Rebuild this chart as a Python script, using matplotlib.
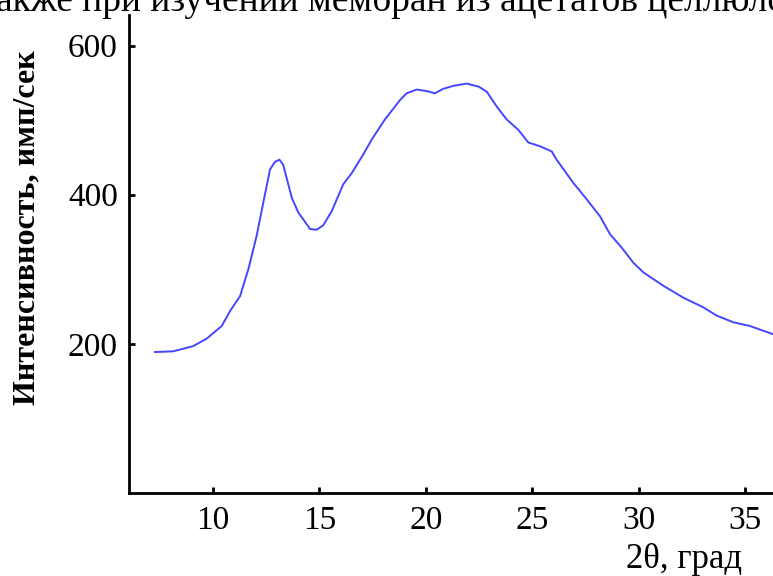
import matplotlib
matplotlib.use('Agg')
import matplotlib.pyplot as plt

# 2theta, degrees
two_theta = [7.27, 8.13, 9.07, 9.70, 10.41, 10.80, 11.27, 11.66, 12.05, 12.36,
             12.68, 12.91, 13.12, 13.30, 13.70, 14.01, 14.24, 14.56, 14.87, 15.18,
             15.58, 16.12, 16.52, 17.06, 17.46, 18.08, 18.79, 19.10, 19.57, 20.04,
             20.43, 20.82, 21.30, 21.92, 22.48, 22.87, 23.34, 23.80, 24.35, 24.82,
             25.37, 25.92, 26.15, 26.93, 27.56, 28.19, 28.66, 29.21, 29.75, 30.22,
             31.16, 32.10, 33.04, 33.67, 34.45, 35.23, 36.32]
# intensity, counts per second
intensity = [189, 190, 197, 207, 224, 244, 264, 300, 345, 389,
             434, 444, 447, 440, 396, 376, 367, 354, 353, 359,
             378, 414, 429, 454, 474, 501, 527, 536, 541, 539,
             536, 542, 546, 549, 545, 538, 518, 501, 487, 470,
             465, 458, 447, 416, 394, 371, 347, 329, 309, 296,
             278, 262, 249, 238, 229, 224, 213]

x_ticks = [10, 15, 20, 25, 30, 35]
y_ticks = [200, 400, 600]

serif = ['Liberation Serif', 'DejaVu Serif']
W, H = 773, 576

fig = plt.figure(figsize=(W / 100, H / 100), dpi=100)
ax = fig.add_axes([129 / W, (H - 493) / H, (W - 129) / W, (493 - 15) / H])

ax.plot(two_theta, intensity, color='#4646ff', lw=1.4)

ax.set_xlim(6.05, 36.32)
ax.set_ylim(0, 641)
ax.set_xticks(x_ticks)
ax.set_yticks(y_ticks)

for s in ['top', 'right']:
    ax.spines[s].set_visible(False)
for s in ['left', 'bottom']:
    ax.spines[s].set_linewidth(2)
    ax.spines[s].set_color('black')

ax.tick_params(direction='in', length=4, width=2, labelsize=24)
ax.tick_params(axis='x', pad=9)
ax.tick_params(axis='y', pad=8)
for lab in ax.get_xticklabels() + ax.get_yticklabels():
    lab.set_family(serif)

# axis titles
fig.text(27 / W, 1 - 228 / H, 'Интенсивность, имп/сек', rotation=90,
         ha='center', va='center', family=serif, fontsize=23, fontweight='bold')
fig.text(684 / W, 1 - 560 / H, '2θ, град', ha='center', va='center',
         family=serif, fontsize=25)

# cut-off line of the page text above the chart
fig.text(-4 / W, 1 - 11 / H, 'акже при изучении мембран из ацетатов целлюлозы',
         ha='left', va='baseline', family=serif, fontsize=27)

fig.savefig('out.png', dpi=100)
